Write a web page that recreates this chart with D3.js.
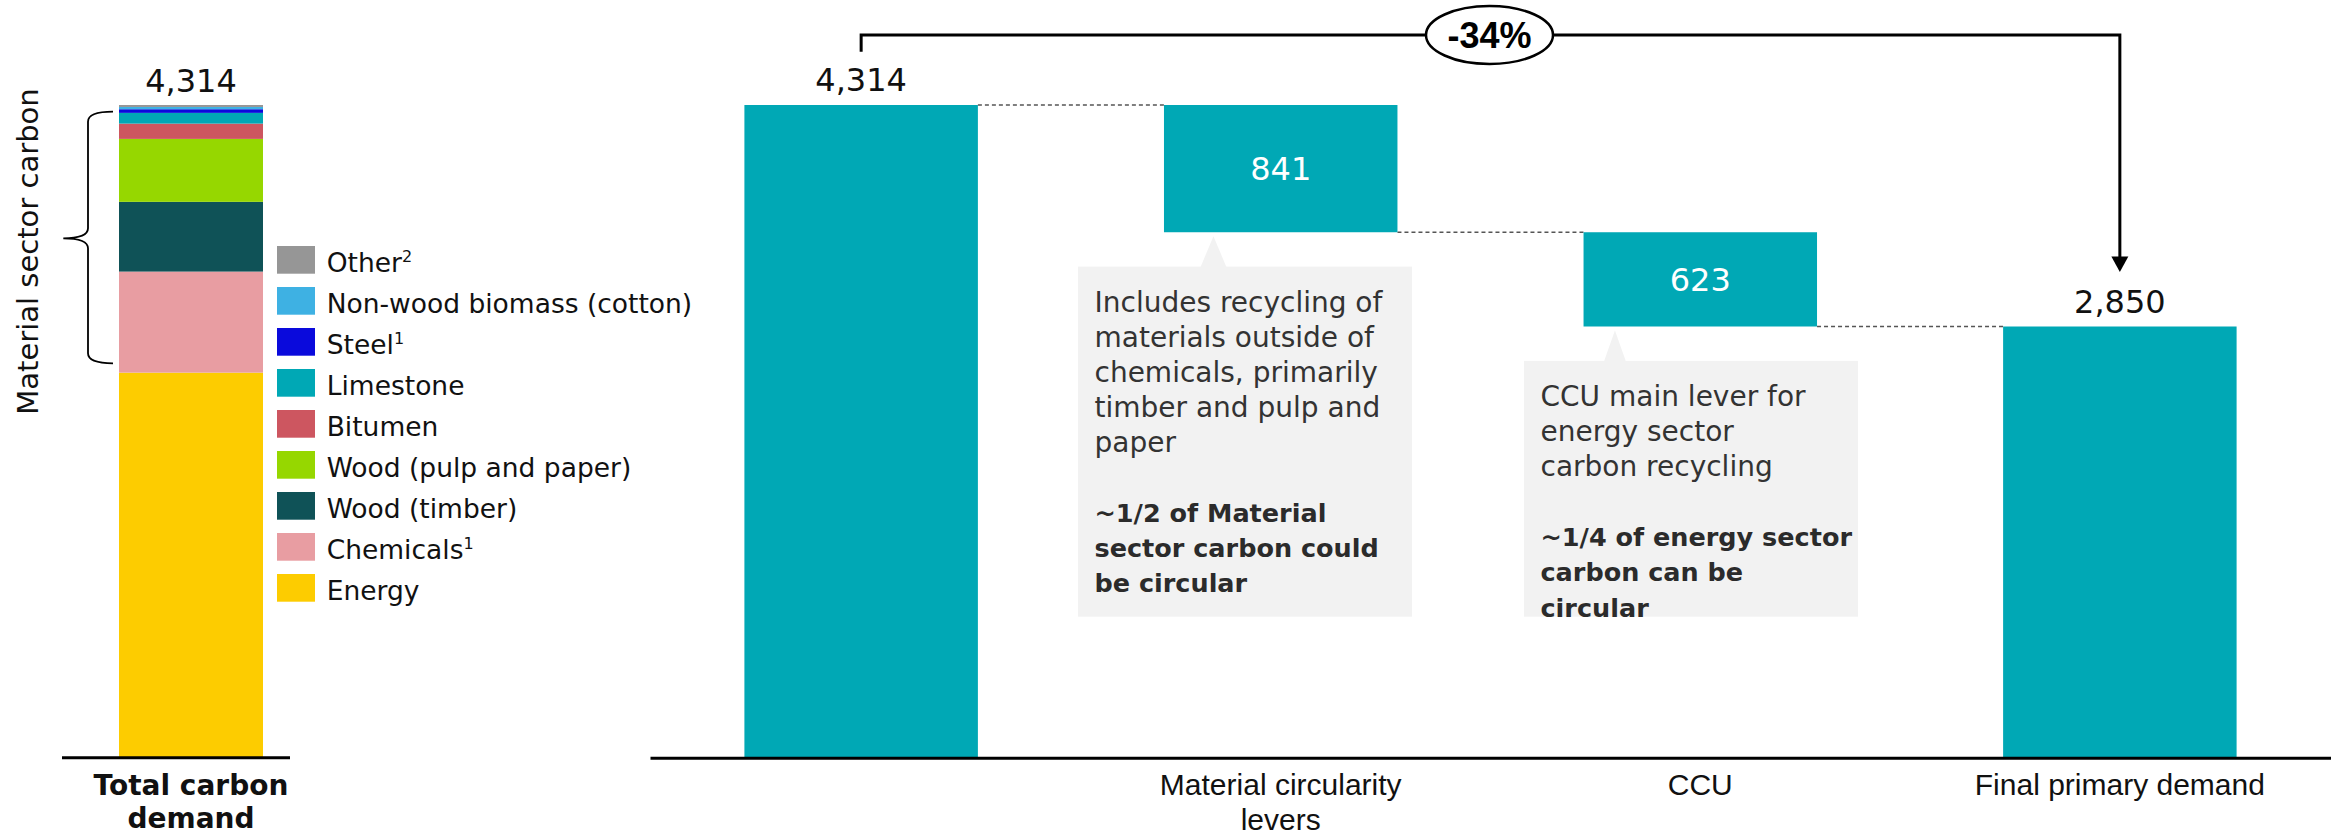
<!DOCTYPE html>
<html>
<head>
<meta charset="utf-8">
<script src="https://cdn.jsdelivr.net/npm/d3@7"></script>
<style>
  html, body { margin: 0; padding: 0; background: #ffffff; }
  svg { display: block; font-family: "DejaVu Sans", sans-serif; }
</style>
</head>
<body>
<svg id="chart" width="2331" height="835"></svg>
<script>
// ---- Data ----------------------------------------------------------------
// Stacked total carbon demand, bottom to top
const stackCategories = ["Energy", "Chemicals", "Wood (timber)", "Wood (pulp and paper)",
  "Bitumen", "Limestone", "Steel", "Non-wood biomass (cotton)", "Other"];
const stackValues = [2545, 668, 461, 416, 101, 71, 24, 15, 13];
const stackFootnotes = ["", "1", "", "", "", "", "1", "", "2"];
const stackColors = ["#FDCC00", "#E89DA2", "#0F5257", "#96D700",
  "#CD5660", "#00A8B5", "#0A0ADC", "#3EB1E3", "#969696"];
const stackAxisLabel = ["Total carbon", "demand"];
const materialSectorLabel = "Material sector carbon";

// Waterfall: start total, two reduction levers, end total
const waterfallKeys = ["start", "material", "ccu", "final"];
const waterfallLabels = [[], ["Material circularity", "levers"], ["CCU"], ["Final primary demand"]];
const waterfallValues = [4314, 841, 623, 2850];
const waterfallKinds = ["total", "decrease", "decrease", "total"];

const callouts = [
  { step: "material",
    lines: ["Includes recycling of", "materials outside of", "chemicals, primarily",
            "timber and pulp and", "paper"],
    bold: ["~1/2 of Material", "sector carbon could", "be circular"] },
  { step: "ccu",
    lines: ["CCU main lever for", "energy sector", "carbon recycling"],
    bold: ["~1/4 of energy sector", "carbon can be", "circular"] }
];

// ---- Layout ----------------------------------------------------------------
const svg = d3.select("#chart");
const baseY = 757.7;
const teal = "#00A8B5";
const ink = "#111111";
const fmt = d3.format(",");

const total = d3.sum(stackValues);
const y = d3.scaleLinear().domain([0, total]).range([baseY, 105]);

// ---- Left stacked bar ----------------------------------------------------
const xLeft = d3.scaleBand().domain(["total"]).range([119, 263]).padding(0);
let acc = 0;
const stackRows = stackCategories.map((c, i) => {
  const r = { cat: c, v0: acc, v1: acc + stackValues[i], color: stackColors[i], note: stackFootnotes[i] };
  acc += stackValues[i];
  return r;
});

const left = svg.append("g");
left.selectAll("rect.seg").data(stackRows).join("rect")
  .attr("class", "seg")
  .attr("x", xLeft("total"))
  .attr("width", xLeft.bandwidth())
  .attr("y", d => y(d.v1))
  .attr("height", d => y(d.v0) - y(d.v1))
  .attr("fill", d => d.color);

left.append("text")
  .attr("x", xLeft("total") + xLeft.bandwidth() / 2)
  .attr("y", y(total) - 13.5)
  .attr("text-anchor", "middle")
  .attr("font-size", 32)
  .attr("fill", ink)
  .text(fmt(total));

// baseline for the left panel
left.append("line")
  .attr("x1", 62).attr("x2", 290)
  .attr("y1", baseY).attr("y2", baseY)
  .attr("stroke", "#000").attr("stroke-width", 3);

const leftLabel = left.append("text")
  .attr("text-anchor", "middle")
  .attr("font-size", 28)
  .attr("font-weight", "bold")
  .attr("fill", ink);
stackAxisLabel.forEach((t, i) => {
  leftLabel.append("tspan")
    .attr("x", xLeft("total") + xLeft.bandwidth() / 2)
    .attr("y", 795 + i * 33)
    .text(t);
});

// Brace covering the material sector segments
const braceTop = 111.7, braceBot = 363.3, braceMid = 238.3;
const bx = 88, bRight = 113, bTip = 63.3, r = 10;
const bracePath = [
  `M${bRight},${braceTop}`,
  `Q${bx},${braceTop} ${bx},${braceTop + r}`,
  `L${bx},${braceMid - r}`,
  `Q${bx},${braceMid} ${bTip},${braceMid}`,
  `Q${bx},${braceMid} ${bx},${braceMid + r}`,
  `L${bx},${braceBot - r}`,
  `Q${bx},${braceBot} ${bRight},${braceBot}`
].join(" ");
left.append("path")
  .attr("d", bracePath)
  .attr("fill", "none")
  .attr("stroke", "#000")
  .attr("stroke-width", 1.8);

left.append("text")
  .attr("transform", `translate(38,${(90 + 413) / 2}) rotate(-90)`)
  .attr("text-anchor", "middle")
  .attr("font-size", 29)
  .attr("fill", ink)
  .text(materialSectorLabel);

// Legend, listed top to bottom (reverse stack order)
const legendRows = stackRows.slice().reverse();
const legend = svg.append("g");
const lg = legend.selectAll("g").data(legendRows).join("g")
  .attr("transform", (d, i) => `translate(277,${246 + i * 41})`);
lg.append("rect")
  .attr("width", 38).attr("height", 27.7)
  .attr("fill", d => d.color);
const lt = lg.append("text")
  .attr("x", 49.7).attr("y", 25.5)
  .attr("font-size", 26.5)
  .attr("fill", ink);
lt.append("tspan").text(d => d.cat);
lt.filter(d => d.note).append("tspan")
  .attr("font-size", 16)
  .attr("dy", -10)
  .text(d => d.note);

// ---- Waterfall ------------------------------------------------------------
const x = d3.scaleBand()
  .domain(waterfallKeys)
  .range([650, 2331])
  .paddingInner(0.4435)
  .paddingOuter(0.225);

let running = 0;
const bars = waterfallKeys.map((k, i) => {
  const v = waterfallValues[i];
  let top, bottom;
  if (waterfallKinds[i] === "total") {
    bottom = 0; top = v; running = v;
  } else {
    top = running; bottom = running - v; running = bottom;
  }
  return { key: k, value: v, kind: waterfallKinds[i], top, bottom, label: waterfallLabels[i] };
});

const wf = svg.append("g");

// connectors between consecutive bars
wf.selectAll("line.conn").data(bars.slice(0, -1)).join("line")
  .attr("class", "conn")
  .attr("x1", d => x(d.key) + x.bandwidth())
  .attr("x2", (d, i) => x(bars[i + 1].key))
  .attr("y1", d => y(d.kind === "total" ? d.top : d.bottom))
  .attr("y2", d => y(d.kind === "total" ? d.top : d.bottom))
  .attr("stroke", "#555")
  .attr("stroke-width", 1.6)
  .attr("stroke-dasharray", "4,3");

wf.selectAll("rect.bar").data(bars).join("rect")
  .attr("class", "bar")
  .attr("x", d => x(d.key))
  .attr("width", x.bandwidth())
  .attr("y", d => y(d.top))
  .attr("height", d => y(d.bottom) - y(d.top))
  .attr("fill", teal);

// value labels: above totals, inside the decrease bars
wf.selectAll("text.val").data(bars).join("text")
  .attr("class", "val")
  .attr("x", d => x(d.key) + x.bandwidth() / 2)
  .attr("y", d => d.kind === "total" ? y(d.top) - 14 : (y(d.top) + y(d.bottom)) / 2 + 11.5)
  .attr("text-anchor", "middle")
  .attr("font-size", 32)
  .attr("fill", d => d.kind === "total" ? ink : "#ffffff")
  .text(d => fmt(d.value));

// category axis
const axis = d3.axisBottom(x).tickSize(0).tickSizeOuter(0).tickFormat("");
const axisG = wf.append("g")
  .attr("transform", `translate(0,${baseY})`)
  .call(axis);
axisG.select(".domain").attr("stroke", "#000").attr("stroke-width", 3);
axisG.selectAll(".tick").each(function (k) {
  const lines = bars.find(b => b.key === k).label;
  const t = d3.select(this).append("text")
    .attr("text-anchor", "middle")
    .attr("font-size", 30)
    .attr("fill", ink);
  lines.forEach((ln, i) => {
    t.append("tspan").attr("x", 0).attr("y", 37.3 + i * 35).text(ln);
  });
});

// callout boxes under the decrease bars
const calloutBoxes = {
  material: { x0: 1078, x1: 1412, tipDx: 49.5, baseHalf: 13 },
  ccu:      { x0: 1524, x1: 1858, tipDx: 31.4, baseHalf: 11 }
};
callouts.forEach(c => {
  const bar = bars.find(b => b.key === c.step);
  const box = calloutBoxes[c.step];
  const barBottom = y(bar.bottom);
  const top = barBottom + 34.4;
  const bottom = 616.7;
  const tipX = x(bar.key) + box.tipDx;
  const g = svg.append("g");
  g.append("rect")
    .attr("x", box.x0).attr("y", top)
    .attr("width", box.x1 - box.x0).attr("height", bottom - top)
    .attr("fill", "#F2F2F2");
  g.append("path")
    .attr("d", `M${tipX - box.baseHalf},${top + 0.5} L${tipX},${barBottom + 4} L${tipX + box.baseHalf},${top + 0.5} Z`)
    .attr("fill", "#F2F2F2");
  const lh = 35.1;
  const tx = box.x0 + 16.5;
  const t0 = top + 45;
  c.lines.forEach((ln, i) => {
    g.append("text")
      .attr("x", tx).attr("y", t0 + i * lh)
      .attr("font-size", 28)
      .attr("fill", "#333333")
      .text(ln);
  });
  c.bold.forEach((ln, i) => {
    g.append("text")
      .attr("x", tx).attr("y", t0 + (c.lines.length + 1 + i) * lh)
      .attr("font-size", 25.5)
      .attr("font-weight", "bold")
      .attr("fill", "#2b2b2b")
      .text(ln);
  });
});

// overall change bracket from first to last total
const first = bars[0], last = bars[bars.length - 1];
const change = Math.round((last.value - first.value) / first.value * 100);
const fx = x(first.key) + x.bandwidth() / 2;
const lx = x(last.key) + x.bandwidth() / 2;
const bracketY = 35;
const ell = { cx: 1489.5, rx: 63.5, ry: 29 };
const br = svg.append("g");
br.append("path")
  .attr("d", `M${fx},${y(first.top) - 53.3} V${bracketY} H${ell.cx - ell.rx}`)
  .attr("fill", "none").attr("stroke", "#000").attr("stroke-width", 3);
br.append("path")
  .attr("d", `M${ell.cx + ell.rx},${bracketY} H${lx} V${y(last.top) - 69}`)
  .attr("fill", "none").attr("stroke", "#000").attr("stroke-width", 3);
br.append("path")
  .attr("d", `M${lx - 8.5},${y(last.top) - 70} L${lx + 8.5},${y(last.top) - 70} L${lx},${y(last.top) - 54.5} Z`)
  .attr("fill", "#000");
br.append("ellipse")
  .attr("cx", ell.cx).attr("cy", bracketY)
  .attr("rx", ell.rx).attr("ry", ell.ry)
  .attr("fill", "#fff").attr("stroke", "#000").attr("stroke-width", 2.5);
br.append("text")
  .attr("x", ell.cx).attr("y", bracketY + 13)
  .attr("text-anchor", "middle")
  .attr("font-family", "Liberation Sans, Arial, sans-serif")
  .attr("font-weight", "bold")
  .attr("font-size", 36)
  .attr("fill", "#000")
  .text(`${change}%`);
</script>
</body>
</html>
